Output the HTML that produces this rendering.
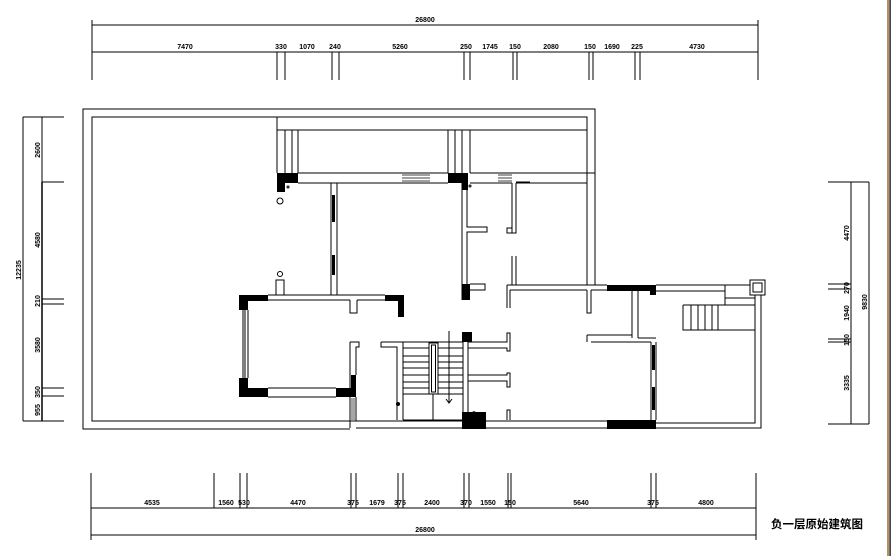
<!DOCTYPE html>
<html><head><meta charset="utf-8"><style>
html,body{margin:0;padding:0;background:#fff;width:891px;height:556px;overflow:hidden}
svg{display:block}
text{font-family:"Liberation Sans Narrow","Liberation Sans",sans-serif;font-weight:bold;font-size:7px;fill:#000}
</style></head><body>
<svg width="891" height="556" viewBox="0 0 891 556" xmlns="http://www.w3.org/2000/svg">
<rect x="887" y="0" width="2.5" height="556" fill="#b39068"/>
<rect x="889.5" y="0" width="1.5" height="556" fill="#3a4a55"/>
<g stroke="#000" stroke-width="1" fill="none">
<!-- top dims -->
<line x1="92" y1="25" x2="758" y2="25"/>
<line x1="92" y1="52" x2="758" y2="52" stroke="#555" stroke-width="1.5"/>
<line x1="92" y1="20" x2="92" y2="80"/><line x1="758" y1="20" x2="758" y2="80"/>
<path d="M277 52V80M285 52V80M332 52V80M339 52V80M464 52V80M470 52V80M513 52V80M517 52V80M589 52V80M593 52V80M635 52V80M640 52V80"/>
<!-- bottom dims -->
<line x1="91" y1="508" x2="756" y2="508" stroke="#555" stroke-width="1.5"/>
<line x1="91" y1="535" x2="756" y2="535"/>
<path d="M91 473V540M756 473V540M214 473V508M240 473V508M247 473V508M351 473V508M356 473V508M398 473V508M403 473V508M464 473V508M469 473V508M508 473V508M511 473V508M651 473V508M656 473V508"/>
<!-- left dims -->
<line x1="23" y1="117" x2="23" y2="421"/>
<line x1="42" y1="182" x2="42" y2="421" stroke-width="1.5"/>
<line x1="42" y1="117" x2="42" y2="182"/>
<path d="M23 117H64M42 182H64M42 299H64M42 304H64M42 388H64M42 396H64M23 421H64"/>
<!-- right dims -->
<line x1="851" y1="182" x2="851" y2="424"/>
<line x1="869" y1="182" x2="869" y2="424"/>
<path d="M828 182H869M828 284H851M828 289H851M828 339H851M828 342H851M828 424H869"/>
<!-- outer site -->
<path d="M350 429H83V109H595V285"/>
<path d="M350 421H92V117H587V285"/>
<path d="M277 117V173M277 130H587M285 130V173M292 130V173M298 130V173M448 130V173M455 130V173M462 130V173M470 130V173"/>
<!-- top wall -->
<path d="M298 173H448M298 183H448M470 173H595M470 183H512M516 183H587"/>
<path d="M402 175H430M402 178H430M402 181H430M498 175H512M498 178H512M498 181H512" stroke-width="0.8"/>
<path d="M516 182H530"/>
<!-- inner walls -->
<path d="M331 183V295M337 183V295"/>
<path d="M462 183V300M467 183V227H487V232H467V284"/>
<path d="M470 284H485V290H470"/>
<path d="M512 183V233H507V228H512M516 183V233H512"/>
<path d="M512 256V285M516 256V285"/>
<path d="M507 285V308M510 290V308M507 285H607M510 290H587M591 290H632M638 290H656"/>
<path d="M656 285H750M656 291H725"/>
<path d="M587 290V313H591V290M632 290V338M638 290V338"/>
<path d="M587 335H632M591 342H651M587 335V342M638 338H656"/>
<path d="M651 342V420M656 342V420"/>
<!-- right room -->
<path d="M725 285V305M725 298H755M683 305H755M683 305V330H755M691 305V330M698 305V330M705 305V330M712 305V330M718 305V330"/>
<rect x="750" y="280" width="15" height="15"/>
<rect x="753" y="283" width="9" height="9"/>
<path d="M755 295V423H656M761 295V428H656"/>
<!-- bottom wall -->
<path d="M350 421H607M356 428H607"/>
<!-- left room -->
<path d="M268 295H385M268 300H350M357 300H385M350 300V313H357V300"/>
<path d="M276 295V280H284V295"/>
<circle cx="280" cy="274" r="2.5"/>
<path d="M248 310V378M243 310V378M245 310V378"/>
<path d="M268 388H336M268 397H336"/>
<path d="M350 342H359V347H356V375M350 342V428M356 397V421"/>
<path d="M352 398V420M354 398V420" stroke-width="0.7"/>
<!-- stair -->
<path d="M381 342H403V420M381 342V347H397V420"/>
<path d="M403 342H463M403 348H463M403 356H463M403 362H463M403 368H463M403 375H463M403 382H463M403 388H463M403 394H463M403 420H463"/>
<path d="M433 394V420"/>
<rect x="429" y="343" width="9" height="51" fill="#fff"/>
<rect x="431.5" y="345" width="4" height="47"/>
<path d="M449 331V403M446 399L449 403L452 399"/>
<path d="M463 342V420M468 342V412"/>
<path d="M468 342H507V333H510V351H507V348H468"/>
<path d="M468 375H507V373H510V387H507V381H468"/>
<path d="M507 420V410H510V420"/>
<circle cx="280" cy="201" r="3"/>
<circle cx="398" cy="404" r="1.5" fill="#000"/>
<circle cx="474" cy="413" r="1.2"/>
<circle cx="288" cy="187" r="1"/><circle cx="470" cy="186" r="1"/>
</g>
<!-- black columns -->
<g fill="#000">
<rect x="277" y="173" width="21" height="10"/><rect x="277" y="183" width="8" height="9"/>
<rect x="448" y="173" width="20" height="10"/><rect x="462" y="183" width="6" height="7"/>
<rect x="462" y="284" width="8" height="16"/>
<rect x="607" y="285" width="49" height="6"/><rect x="650" y="291" width="6" height="4"/>
<rect x="607" y="420" width="49" height="9"/>
<rect x="462" y="332" width="10" height="10"/>
<rect x="462" y="412" width="24" height="17"/>
<rect x="239" y="295" width="29" height="6"/><rect x="239" y="301" width="9" height="9"/>
<rect x="239" y="378" width="9" height="19"/><rect x="248" y="388" width="20" height="9"/>
<rect x="336" y="388" width="20" height="9"/><rect x="351" y="375" width="5" height="13"/>
<rect x="385" y="295" width="19" height="6"/><rect x="398" y="301" width="6" height="16"/>
<rect x="332" y="195" width="3" height="27"/><rect x="332" y="255" width="3" height="20"/>
<rect x="652" y="345" width="3" height="25"/><rect x="652" y="387" width="3" height="23"/>
</g>
<!-- labels -->
<g text-anchor="middle">
<text x="425" y="22">26800</text>
<text x="185" y="49">7470</text><text x="281" y="49">330</text><text x="307" y="49">1070</text><text x="335" y="49">240</text><text x="400" y="49">5260</text><text x="466" y="49">250</text><text x="490" y="49">1745</text><text x="515" y="49">150</text><text x="551" y="49">2080</text><text x="590" y="49">150</text><text x="612" y="49">1690</text><text x="637" y="49">225</text><text x="697" y="49">4730</text>
<text x="152" y="505">4535</text><text x="226" y="505">1560</text><text x="244" y="505">530</text><text x="298" y="505">4470</text><text x="353" y="505">375</text><text x="377" y="505">1679</text><text x="400" y="505">375</text><text x="432" y="505">2400</text><text x="466" y="505">370</text><text x="488" y="505">1550</text><text x="510" y="505">150</text><text x="581" y="505">5640</text><text x="653" y="505">375</text><text x="706" y="505">4800</text>
<text x="425" y="532">26800</text>
<text transform="translate(40,150) rotate(-90)">2600</text>
<text transform="translate(40,240) rotate(-90)">4580</text>
<text transform="translate(40,301) rotate(-90)">210</text>
<text transform="translate(40,345) rotate(-90)">3580</text>
<text transform="translate(40,392) rotate(-90)">350</text>
<text transform="translate(40,410) rotate(-90)">955</text>
<text transform="translate(21,270) rotate(-90)">12235</text>
<text transform="translate(849,233) rotate(-90)">4470</text>
<text transform="translate(849,288) rotate(-90)">270</text>
<text transform="translate(849,313) rotate(-90)">1940</text>
<text transform="translate(849,340) rotate(-90)">150</text>
<text transform="translate(849,383) rotate(-90)">3335</text>
<text transform="translate(867,302) rotate(-90)">9830</text>
</g>
<text x="771" y="528" style="font-family:'Liberation Sans','Noto Sans CJK SC',sans-serif;font-size:11.5px;font-weight:bold">负一层原始建筑图</text>
</svg>
</body></html>
